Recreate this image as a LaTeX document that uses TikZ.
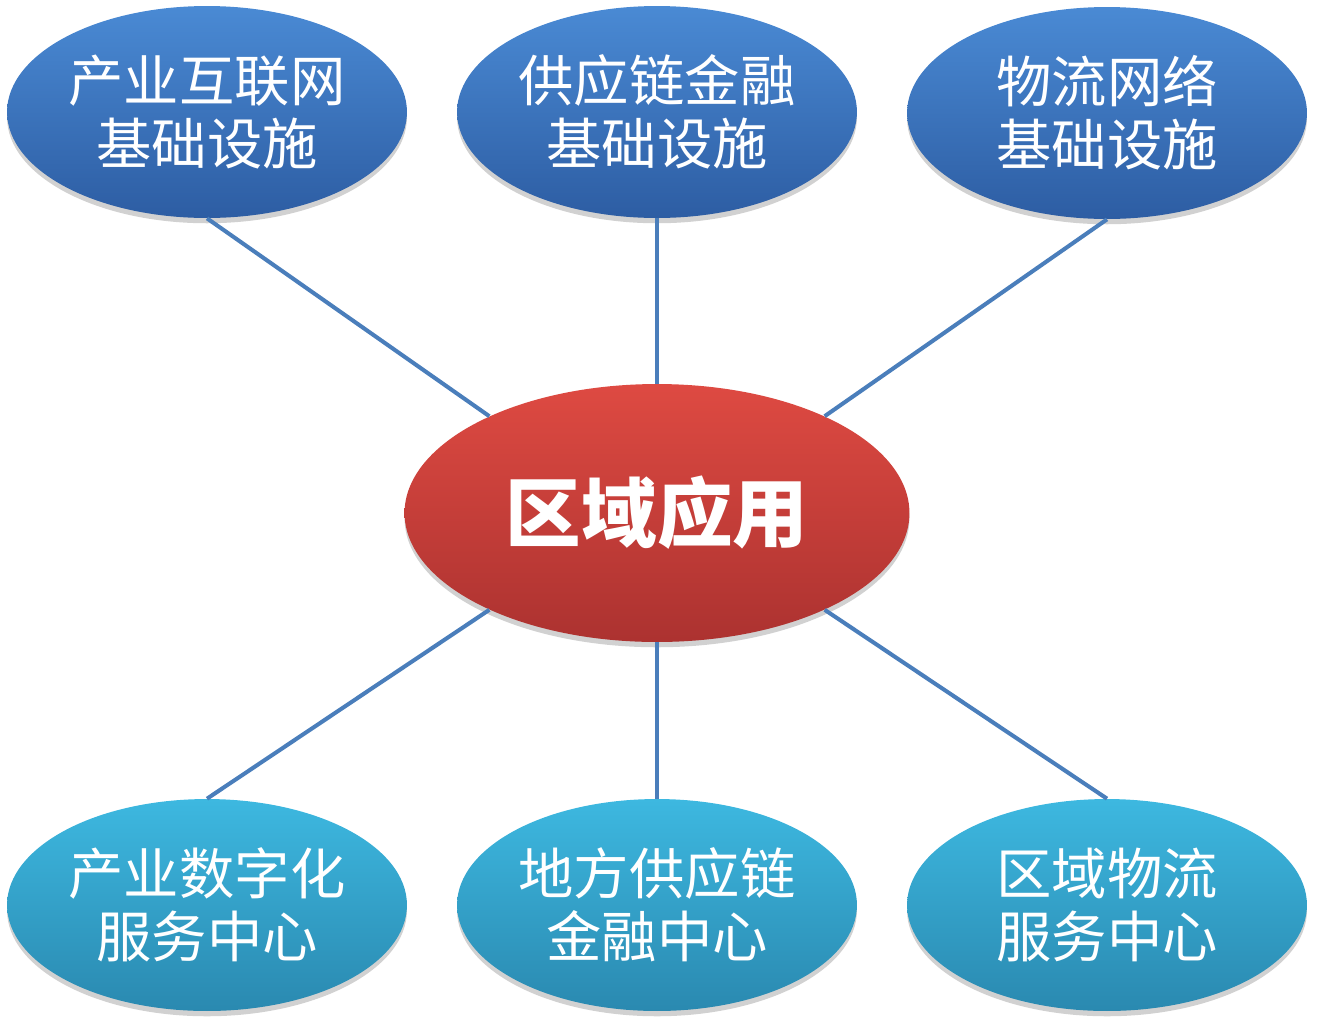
\documentclass[tikz,border=0pt]{standalone}
\usepackage{fontspec}
\newfontfamily\cjk{Noto Sans CJK SC}
\usetikzlibrary{shapes.geometric,shadows}
\definecolor{infraTop}{HTML}{4A8AD4}
\definecolor{infraBot}{HTML}{2D5DA3}
\definecolor{hubTop}{HTML}{3DB8E0}
\definecolor{hubBot}{HTML}{2A89B0}
\definecolor{regTop}{HTML}{DE4A42}
\definecolor{regBot}{HTML}{AC3230}
\definecolor{linkBlue}{HTML}{4A7EBB}

\begin{document}
\begin{tikzpicture}[x=0.02cm, y=-0.02cm,
             bubble/.style={ellipse, inner sep=0pt, text=white, align=center,
                            drop shadow={shadow xshift=0pt, shadow yshift=-3pt,
                                         opacity=0.18, fill=black}},
             infra/.style={bubble, minimum width=8cm, minimum height=4.24cm,
                           top color=infraTop, bottom color=infraBot,
                           font=\cjk\fontsize{31.5}{36}\selectfont},
             hub/.style={bubble, minimum width=8cm, minimum height=4.24cm,
                         top color=hubTop, bottom color=hubBot,
                         font=\cjk\fontsize{31.5}{36}\selectfont},
             region/.style={bubble, minimum width=10.1cm, minimum height=5.16cm,
                            top color=regTop, bottom color=regBot,
                            font=\cjk\bfseries\fontsize{43}{48}\selectfont},
             link/.style={line width=2.3pt, draw=linkBlue}]
\useasboundingbox (0,0) rectangle (1317,1025);

%% top row: infrastructure
\node[infra] (infA) at (207,112) {产业互联网\\基础设施};
\node[infra] (infB) at (657,112) {供应链金融\\基础设施};
\node[infra] (infC) at (1107,113) {物流网络\\基础设施};

%% centre
\node[region] (reg) at (657,513) {区域应用};

%% bottom row: service centres
\node[hub] (hubA) at (207,905) {产业数字化\\服务中心};
\node[hub] (hubB) at (657,905) {地方供应链\\金融中心};
\node[hub] (hubC) at (1107,905) {区域物流\\服务中心};

%% spokes
\draw[link] (infA.south) -- (reg.150);
\draw[link] (infB.south) -- (reg.north);
\draw[link] (infC.south) -- (reg.30);
\draw[link] (hubA.north) -- (reg.210);
\draw[link] (hubB.north) -- (reg.south);
\draw[link] (hubC.north) -- (reg.330);
\end{tikzpicture}
\end{document}
